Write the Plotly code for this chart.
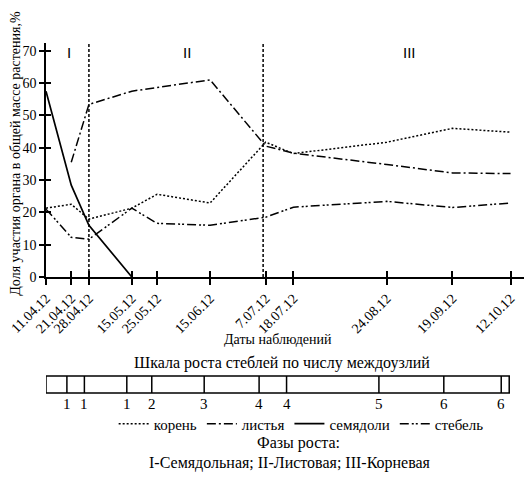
import plotly.graph_objects as go

# даты наблюдений и подписи
dates = ["2012-04-11", "2012-04-21", "2012-04-28", "2012-05-15", "2012-05-25", "2012-06-15",
         "2012-07-07", "2012-07-18", "2012-08-24", "2012-09-19", "2012-10-12"]
date_labels = ["11.04.12", "21.04.12", "28.04.12", "15.05.12", "25.05.12", "15.06.12",
               "7.07.12", "18.07.12", "24.08.12", "19.09.12", "12.10.12"]

# доля участия органа, %
koren = [21.3, 22.5, 17.9, 21.3, 25.6, 22.9, 41.7, 38.2, 41.7, 46.0, 44.8]
listya = [None, 35.5, 53.4, 57.5, 58.6, 61.0, 40.5, 38.3, 34.8, 32.2, 32.0]
semyadoli = [57.5, 28.4, 16.0, 0.0, None, None, None, None, None, None, None]
stebel = [21.0, 12.3, 11.7, 21.3, 16.6, 16.0, 18.5, 21.6, 23.4, 21.5, 22.9]

# шкала роста стеблей (число междоузлий) для дат начиная с 21.04
internodes = [1, 1, 1, 2, 3, 4, 4, 5, 6, 6]

# границы фаз роста
phase_bounds = ["2012-04-28", "2012-07-06"]
phase_names = ["I", "II", "III"]
phase_pos = ["2012-04-20", "2012-06-06", "2012-09-02"]

SERIF = "Liberation Serif"
X_RANGE = ["2012-04-11", "2012-10-20 12:00"]
BAR_RANGE = ["2012-04-12 15:00", "2012-10-24 08:00"]

fig = go.Figure()

fig.add_trace(go.Scatter(x=dates, y=koren, name="корень", mode="lines",
                         line=dict(color="black", width=1.5, dash="2px,2px")))
fig.add_trace(go.Scatter(x=dates, y=listya, name="листья", mode="lines",
                         line=dict(color="black", width=1.5, dash="9px,3px,2px,3px")))
fig.add_trace(go.Scatter(x=dates, y=semyadoli, name="семядоли", mode="lines",
                         line=dict(color="black", width=1.7)))
fig.add_trace(go.Scatter(x=dates, y=stebel, name="стебель", mode="lines",
                         line=dict(color="black", width=1.5, dash="9px,3px,2px,2px,2px,3px")))

# пустые трассы для вспомогательных осей
fig.add_trace(go.Scatter(x=[], y=[], xaxis="x2", yaxis="y", showlegend=False, hoverinfo="skip"))
fig.add_trace(go.Scatter(x=[], y=[], xaxis="x3", yaxis="y3", showlegend=False, hoverinfo="skip"))

# вертикальные линии границ фаз
for d in phase_bounds:
    fig.add_shape(type="line", xref="x", yref="y", x0=d, x1=d, y0=0, y1=72.4,
                  line=dict(color="black", width=1.5, dash="3px,2px"))

for name, pos in zip(phase_names, phase_pos):
    fig.add_annotation(x=pos, y=69.6, xref="x", yref="y", text=name, showarrow=False,
                       xanchor="center", yanchor="middle",
                       font=dict(family="Liberation Sans", size=15, color="black"))

# шкала роста стеблей
bar_top, bar_bot = -0.423, -0.496
fig.add_shape(type="rect", xref="x2", yref="paper", x0=BAR_RANGE[0], x1="2012-10-15 05:00",
              y0=bar_bot, y1=bar_top, line=dict(color="black", width=1.5))
for d, n in zip(dates[1:], internodes):
    fig.add_shape(type="line", xref="x2", yref="paper", x0=d, x1=d, y0=bar_bot, y1=bar_top,
                  line=dict(color="black", width=1.5))
    fig.add_annotation(x=d, y=-0.543, xref="x2", yref="paper", text=str(n), showarrow=False,
                       xanchor="center", yanchor="middle",
                       font=dict(family=SERIF, size=15, color="black"))

texts = [
    ("Даты наблюдений", 0.478, -0.269, 14),
    ("Шкала роста стеблей по числу междоузлий", 0.485, -0.368, 16),
    ("Фазы роста:", 0.52, -0.711, 16),
    ("I-Семядольная; II-Листовая; III-Корневая", 0.503, -0.797, 16),
]
for t, x, y, s in texts:
    fig.add_annotation(x=x, y=y, xref="paper", yref="paper", text=t, showarrow=False,
                       xanchor="center", yanchor="middle",
                       font=dict(family=SERIF, size=s, color="black"))

fig.add_annotation(x=-0.0634, y=-0.0897, xref="paper", yref="paper", xanchor="center",
                   yanchor="bottom", textangle=-90, showarrow=False,
                   text="Доля участия органа в общей массе растения,%",
                   font=dict(family=SERIF, size=14, color="black"))

axis_common = dict(showgrid=False, zeroline=False, showline=True, linecolor="black",
                   linewidth=1.5, tickcolor="black", tickwidth=1.5)

# страница добавляет отступ 8px, поэтому фигура меньше окна на 8px
fig.update_layout(
    width=524, height=469,
    margin=dict(l=35, r=0, t=35, b=200),
    plot_bgcolor="white", paper_bgcolor="white",
    font=dict(family=SERIF, size=13, color="black"),
    xaxis=dict(type="date", range=X_RANGE, tickmode="array", tickvals=dates,
               ticktext=date_labels, tickangle=-45, ticks="outside", ticklen=6,
               ticklabeloverflow="allow",
               tickfont=dict(family=SERIF, size=14), **axis_common),
    yaxis=dict(range=[0, 72.4], tickmode="linear", tick0=0, dtick=10, ticks="outside",
               ticklen=5, tickfont=dict(family=SERIF, size=14), **axis_common),
    xaxis2=dict(type="date", range=BAR_RANGE, overlaying="x", visible=False),
    xaxis3=dict(type="date", range=X_RANGE, overlaying="x", anchor="y3", tickmode="array",
                tickvals=dates, showticklabels=False, ticks="inside", ticklen=6,
                **axis_common),
    yaxis3=dict(range=[0, 72.4], overlaying="y", anchor="x3", tickmode="linear", tick0=0,
                dtick=10, showticklabels=False, ticks="inside", ticklen=5, **axis_common),
    legend=dict(orientation="h", x=0.525, y=-0.628, xanchor="center", yanchor="middle",
                font=dict(family=SERIF, size=15), itemwidth=30, tracegroupgap=0,
                bgcolor="rgba(0,0,0,0)"),
    showlegend=True,
)

fig.write_html("out.html")
